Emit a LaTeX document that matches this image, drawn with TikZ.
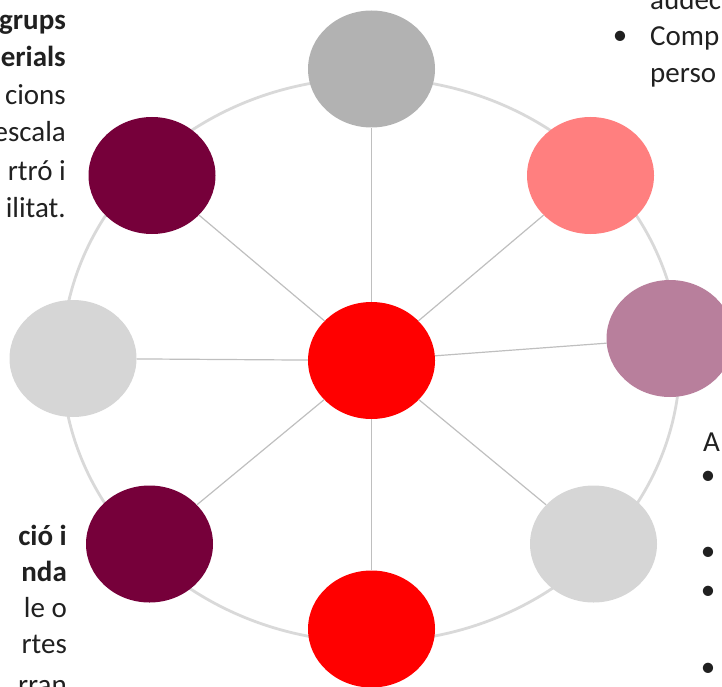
\documentclass[tikz,border=0pt]{standalone}
\usepackage{fontspec}
\setmainfont{Carlito}
\usetikzlibrary{shapes.geometric}
\definecolor{cgray}{HTML}{B2B2B2}
\definecolor{csalmon}{HTML}{FF7F7F}
\definecolor{cmauve}{HTML}{B87F9C}
\definecolor{clight}{HTML}{D6D6D6}
\definecolor{cred}{HTML}{FF0000}
\definecolor{cmaroon}{HTML}{76003A}
\definecolor{cring}{HTML}{D9D9D9}
\definecolor{cspoke}{HTML}{BFBFBF}
\definecolor{ctext}{HTML}{202020}
\begin{document}
\begin{tikzpicture}[x=1pt,y=-1pt,
  ball/.style={ellipse, minimum width=127pt, minimum height=117pt, inner sep=0pt},
  spoke/.style={draw=cspoke, line width=1.2pt},
  ring/.style={draw=cring, line width=2.8pt},
  txt/.style={inner sep=0pt, text=ctext, font=\fontsize{29}{37}\selectfont},
  rtxt/.style={txt, anchor=base east},
  ltxt/.style={txt, anchor=base west},
  btxt/.style={txt, anchor=base east, font=\fontsize{29}{37}\selectfont\bfseries}]
\useasboundingbox (0,0) rectangle (722,687);
\draw[ring] (371,360) ellipse [x radius=309, y radius=282];
\node[ball, fill=cred] (c) at (371.5,360.5) {};
\node[ball, fill=cgray] (n) at (371.5,69) {};
\node[ball, fill=csalmon] (ne) at (590.5,175.5) {};
\node[ball, fill=cmauve] (e) at (670,338.5) {};
\node[ball, fill=clight] (se) at (593.5,544) {};
\node[ball, fill=cred] (s) at (371.5,629) {};
\node[ball, fill=cmaroon] (sw) at (149.5,544) {};
\node[ball, fill=clight] (w) at (73,358.5) {};
\node[ball, fill=cmaroon] (nw) at (152,175.5) {};
\foreach \t in {n,ne,e,se,s,sw,w,nw} \draw[spoke] (c) -- (\t);
% top-left text
\node[btxt] (tl1) at (66,30) {grups};
\node[btxt] (tl2) at (66,67) {erials};
\node[rtxt] (tl3) at (66,105) {cions};
\node[rtxt] (tl4) at (66,142) {escala};
\node[rtxt] (tl5) at (66,180) {rtró i};
\node[rtxt] (tl6) at (66,217) {ilitat.};
% bottom-left text
\node[btxt] (bl1) at (67,545) {ció i};
\node[btxt] (bl2) at (67,581) {nda};
\node[rtxt] (bl3) at (67,617) {le o};
\node[rtxt] (bl4) at (67,653) {rtes};
\node[rtxt] (bl5) at (67,694) {rran};
% top-right text
\node[ltxt] (tr0) at (650,10) {audec};
\node[txt] (trb) at (620,38) {•};
\node[ltxt] (tr1) at (650,46) {Comp};
\node[ltxt] (tr2) at (650,83) {perso};
% right text
\node[ltxt] (ra) at (703,451) {A};
\node[txt] (rb1) at (708,478) {•};
\node[txt] (rb2) at (708,554) {•};
\node[txt] (rb3) at (708,593) {•};
\node[txt] (rb4) at (708,670) {•};
\end{tikzpicture}
\end{document}
